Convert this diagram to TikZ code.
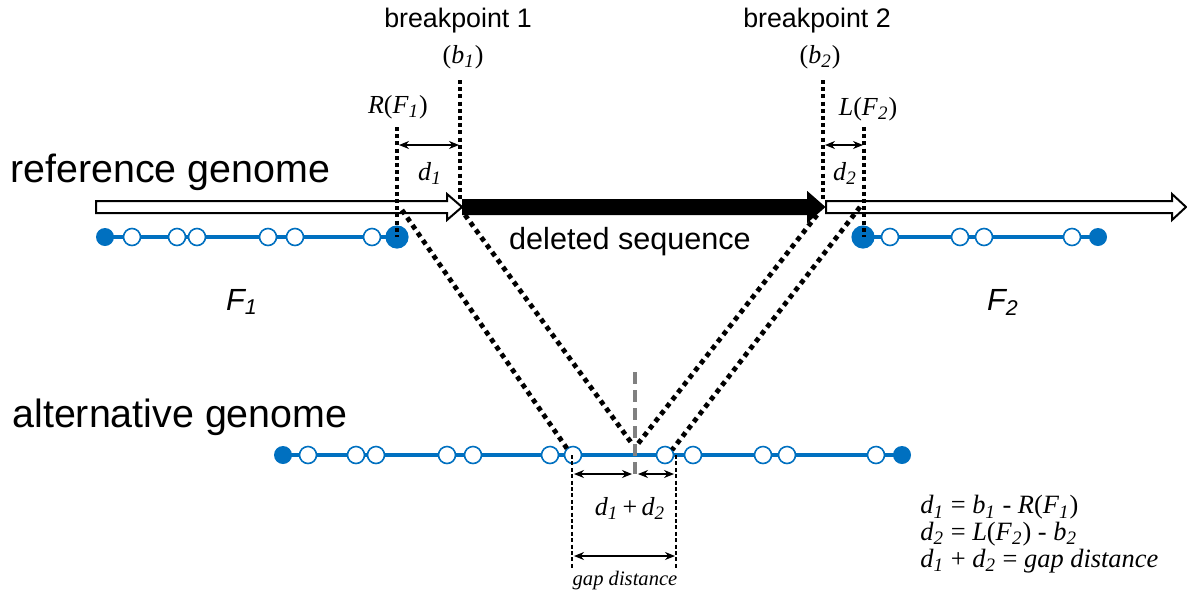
\documentclass[tikz,border=0pt]{standalone}
\usepackage{fontspec}
\setmainfont{Liberation Serif}
\setsansfont{Liberation Sans}
\usetikzlibrary{arrows.meta}
\definecolor{geneblue}{RGB}{0,112,192}
\newcommand{\sbi}[1]{\textsubscript{\itshape\fontsize{9.5}{10}\selectfont #1}}

\begin{document}
\begin{tikzpicture}[x=0.5pt,y=-0.5pt,
    genome/.style={font=\sffamily\fontsize{19.7}{22}\selectfont, anchor=base west, inner sep=0},
    bigsans/.style={font=\sffamily\fontsize{15.3}{18}\selectfont, anchor=base, inner sep=0},
    bptext/.style={font=\sffamily\fontsize{13.4}{16}\selectfont, anchor=base, inner sep=0},
    mathtext/.style={font=\fontsize{13}{15}\selectfont, anchor=base, inner sep=0},
    eqtext/.style={font=\fontsize{13.2}{13.4}\selectfont, anchor=north west, align=left, inner sep=0},
    gaparrow/.style={line width=1pt, draw=black},
    bpline/.style={line width=2pt, dash pattern=on 2pt off 1.6pt},
    crossline/.style={line width=2.4pt, dash pattern=on 2.4pt off 2.2pt},
    thindash/.style={line width=0.6pt, dash pattern=on 2pt off 1.2pt},
    dist/.style={{Stealth[length=5pt,width=4pt]}-{Stealth[length=5pt,width=4pt]}, line width=0.6pt},
    opendot/.style={draw=geneblue, fill=white, line width=0.8pt},
    fulldot/.style={fill=geneblue},
    fragline/.style={draw=geneblue, line width=1.9pt}]
  \useasboundingbox (0,0) rectangle (1187,596);

  % reference genome
  \draw[gaparrow, fill=white] (96,201) -- (447,201) -- (447,194) -- (462,207) -- (447,220) -- (447,213) -- (96,213) -- cycle;
  \draw[gaparrow, fill=black] (463,200) -- (808,200) -- (808,193) -- (824,207) -- (808,221) -- (808,214) -- (463,214) -- cycle;
  \draw[gaparrow, fill=white] (826,201) -- (1172,201) -- (1172,194) -- (1186,207) -- (1172,220) -- (1172,213) -- (826,213) -- cycle;

  \node[genome] (refname) at (10,182) {reference genome};
  \node[genome] (altname) at (12,427) {alternative genome};
  \node[bigsans] (delseq) at (630,249) {deleted sequence};
  \node[bigsans] (fone) at (242,310) {\itshape F\textsubscript{1}};
  \node[bigsans] (ftwo) at (1003,310) {\itshape F\textsubscript{2}};

  % fragments on the reference
  \draw[fragline] (105,237) -- (397,237);
  \draw[fragline] (863,237) -- (1098,237);
  \fill[fulldot] (105,237) circle (4.5pt);
  \fill[fulldot] (397,237) circle (5.8pt);
  \fill[fulldot] (863,237) circle (5.8pt);
  \fill[fulldot] (1098,237) circle (4.5pt);
  \foreach \x in {132,177,197,268,295,372,890,960,984,1072}
    \draw[opendot] (\x,237) circle (4.25pt);

  % fragments on the alternative genome
  \draw[fragline] (283,455) -- (902,455);
  \fill[fulldot] (283,455) circle (4.5pt);
  \fill[fulldot] (902,455) circle (4.5pt);
  \foreach \x in {308,356,376,447,473,550,573,665,693,763,787,876}
    \draw[opendot] (\x,455) circle (4.25pt);

  % breakpoints
  \coordinate (rfa) at (397,127);
  \coordinate (rfb) at (397,237);
  \coordinate (bpa) at (460,80);
  \coordinate (bpb) at (460,201);
  \coordinate (bqa) at (823,80);
  \coordinate (bqb) at (823,201);
  \coordinate (lfa) at (864,127);
  \coordinate (lfb) at (864,237);
  \draw[bpline] (rfa) -- (rfb);
  \draw[bpline] (bpa) -- (bpb);
  \draw[bpline] (bqa) -- (bqb);
  \draw[bpline] (lfa) -- (lfb);

  \node[bptext] (bpone) at (458,27) {breakpoint 1};
  \node[mathtext] (bone) at (463,63) {(\textit{b}\sbi{1})};
  \node[bptext] (bptwo) at (817,27) {breakpoint 2};
  \node[mathtext] (btwo) at (820,63) {(\textit{b}\sbi{2})};
  \node[mathtext] (rfone) at (398,113) {\textit{R}(\textit{F}\sbi{1})};
  \node[mathtext] (lftwo) at (868,115) {\textit{L}(\textit{F}\sbi{2})};

  \draw[dist] (399,145) -- (459,145);
  \draw[dist] (825,145) -- (863,145);
  \node[mathtext] (done) at (430,180) {\textit{d}\sbi{1}};
  \node[mathtext] (dtwo) at (845,180) {\textit{d}\sbi{2}};

  % crossing lines
  \coordinate (cra) at (402,210);
  \coordinate (crb) at (568,450);
  \coordinate (cca) at (465,215);
  \coordinate (ccb) at (633,445);
  \coordinate (cda) at (817,215);
  \coordinate (cdb) at (637,445);
  \coordinate (cea) at (860,207);
  \coordinate (ceb) at (672,450);
  \draw[crossline] (cra) -- (crb);
  \draw[crossline] (cca) -- (ccb);
  \draw[crossline] (cda) -- (cdb);
  \draw[crossline] (cea) -- (ceb);

  \draw[gray, line width=2pt, dash pattern=on 6pt off 3pt] (635,372) -- (635,474);

  % gap distance
  \draw[thindash] (572,455) -- (572,570);
  \draw[thindash] (676,455) -- (676,570);
  \draw[dist] (574,474) -- (632,474);
  \draw[dist] (638,474) -- (674,474);
  \draw[dist] (574,556) -- (675,556);
  \node[mathtext] (dsum) at (630,515) {\textit{d}\sbi{1}\,+\,\textit{d}\sbi{2}};
  \node[mathtext, font=\itshape\fontsize{10.3}{12}\selectfont] (gapname) at (625,585) {gap distance};

  \node[eqtext] (eqs) at (920,495) {\textit{d}\sbi{1} = \textit{b}\sbi{1} - \textit{R}(\textit{F}\sbi{1})\\
    \textit{d}\sbi{2} = \textit{L}(\textit{F}\sbi{2}) - \textit{b}\sbi{2}\\
    \textit{d}\sbi{1} + \textit{d}\sbi{2} = \textit{gap distance}};
\end{tikzpicture}
\end{document}
